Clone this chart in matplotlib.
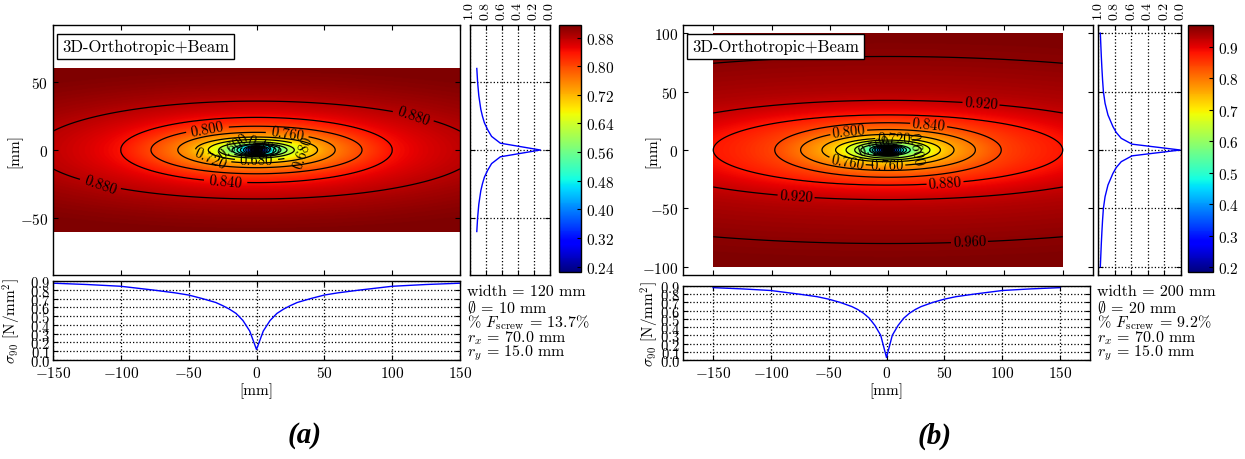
import numpy as np
import matplotlib
matplotlib.use('Agg')
import matplotlib.pyplot as plt

plt.rcParams.update({
    'font.family': 'serif',
    'font.serif': ['cmr10'],
    'mathtext.fontset': 'cm',
    'axes.formatter.use_mathtext': True,
    'font.size': 11,
    'xtick.direction': 'in',
    'ytick.direction': 'in',
    'xtick.top': True,
    'ytick.right': True,
    'axes.linewidth': 1.0,
})

# sigma_90 [N/mm^2] along the beam axis (y = 0); past 150 mm it is the far field
prof_r = [0, 5, 10, 15, 20, 25, 30, 40, 50, 60, 75, 100, 125, 150,
          175, 200, 250, 300, 400, 500, 600]
prof_a = [0.12, 0.33, 0.45, 0.53, 0.58, 0.62, 0.655, 0.70, 0.74, 0.765, 0.795,
          0.84, 0.86, 0.875, 0.885, 0.895, 0.907, 0.915, 0.918, 0.92, 0.922]
prof_b = [0.03, 0.30, 0.42, 0.51, 0.57, 0.615, 0.65, 0.70, 0.74, 0.77, 0.80,
          0.845, 0.865, 0.88, 0.895, 0.91, 0.93, 0.94, 0.96, 0.97, 0.975]

# sigma_90 across the beam at x = 0
side_y_a = [0, 5, 10, 15, 20, 25, 30, 40, 50, 60]
side_a = [0.12, 0.62, 0.73, 0.78, 0.82, 0.845, 0.865, 0.89, 0.905, 0.915]
side_y_b = [0, 5, 10, 15, 20, 30, 40, 50, 60, 70, 80, 90, 100]
side_b = [0.01, 0.59, 0.72, 0.78, 0.82, 0.88, 0.915, 0.935, 0.945, 0.953, 0.96, 0.966, 0.972]

widths = [120, 200]
diameters = [10, 20]
f_screw = [13.7, 9.2]
r_x = [70.0, 70.0]
r_y = [15.0, 15.0]

# where the contour labels go (mm)
label_pos_a = [(114, 22), (-114, -23), (-23, -25), (-37, 18), (23, 13),
               (-34, -6), (33, -1), (0, -7), (-17, 3), (5, 3)]
label_pos_b = [(80, 42), (-79, -41), (70, -81), (49, -29), (35, 23),
               (-34, 18), (-35, -11), (-1, -13), (5, 11), (22, 0), (-12, 4)]

W, H = 1245.0, 460.0


def box(l, t, r, b):
    return [l / W, 1 - b / H, (r - l) / W, (b - t) / H]


def mirror(pos, val):
    pos = np.asarray(pos, float)
    val = np.asarray(val, float)
    return np.r_[-pos[::-1], pos[1:]], np.r_[val[::-1], val[1:]]


def dotted_grid(ax):
    ax.grid(True, color='k', linestyle=':', linewidth=0.9)


def field(X, Y, prof, side_y, side_v):
    # every level is an ellipse whose half axes come from the two profiles
    vs = np.linspace(min(prof[0], side_v[0]), max(prof[-1], side_v[-1]), 500)
    A = np.maximum(np.interp(vs, prof, prof_r), 1e-6)
    B = np.maximum(np.interp(vs, side_v, side_y), 1e-6)
    Z = np.full(X.shape, vs[-1])
    done = np.zeros(X.shape, bool)
    f_prev = (X / A[0]) ** 2 + (Y / B[0]) ** 2
    with np.errstate(all='ignore'):
        for j in range(1, len(vs)):
            f = (X / A[j]) ** 2 + (Y / B[j]) ** 2
            hit = (~done) & (f <= 1)
            t = np.clip((f_prev - 1) / (f_prev - f), 0, 1)
            Z[hit] = vs[j - 1] + t[hit] * (vs[j] - vs[j - 1])
            done |= hit
            f_prev = f
    return Z


def panel(fig, x0, prof, side_y, side_v, half_h, ylim, xlim, vlim,
          levels, cticks, yticks, label_pos, letter, idx):
    # stress field in the plate
    main = fig.add_axes(box(x0 + 53, 26, x0 + 460 + 3 * idx, 276))
    xs = np.linspace(-150, 150, 601)
    ys = np.linspace(-half_h, half_h, int(4 * half_h) + 1)
    X, Y = np.meshgrid(xs, ys)
    Z = field(X, Y, prof, side_y, side_v)
    im = main.imshow(Z, extent=(-150, 150, -half_h, half_h), origin='lower',
                     cmap='jet', vmin=vlim[0], vmax=vlim[1],
                     interpolation='bilinear', aspect='auto')
    cs = main.contour(X, Y, Z, levels=levels, colors='k', linewidths=0.9)
    main.clabel(cs, fmt='%.3f', fontsize=10.5, inline=True, manual=label_pos)
    main.set_xlim(xlim)
    main.set_ylim(ylim)
    main.set_xticks([-150, -100, -50, 0, 50, 100, 150])
    main.set_xticklabels([])
    main.set_yticks(yticks)
    main.tick_params(labelsize=11)
    main.set_ylabel('[mm]', fontsize=11)
    main.yaxis.set_label_coords((22 + 8 * idx - 53) / (407.0 + 3 * idx), 0.5)
    main.text(0.022, 0.945, '3D-Orthotropic+Beam', transform=main.transAxes,
              fontsize=12, va='top', ha='left',
              bbox=dict(boxstyle='square,pad=0.3', fc='white', ec='k', lw=1.0))

    # profile across the plate at x = 0
    sx0 = x0 + 470 - 2 * idx
    side = fig.add_axes(box(sx0, 26, sx0 + 80 + 3 * idx, 276))
    yy, vv = mirror(side_y, side_v)
    side.plot(vv, yy, color='b', lw=1.0)
    side.set_xlim(1.0, 0.0)
    side.set_ylim(ylim)
    side.set_xticks([1.0, 0.8, 0.6, 0.4, 0.2, 0.0])
    side.xaxis.set_tick_params(labeltop=True, labelbottom=False, labelsize=10)
    for t in side.get_xticklabels():
        t.set_rotation(90)
    side.set_yticks(yticks)
    side.set_yticklabels([])
    dotted_grid(side)

    # colour scale
    cx0 = sx0 + 89 + 1 * idx
    cax = fig.add_axes(box(cx0, 26, cx0 + 22 + 3 * idx, 273))
    cb = fig.colorbar(im, cax=cax, ticks=cticks)
    cb.ax.tick_params(labelsize=11, direction='in', length=3)
    cb.outline.set_linewidth(1.0)

    # profile along the beam axis
    top = 282 + 5 * idx
    bot = fig.add_axes(box(x0 + 53, top, x0 + 460, 361))
    xx, pv = mirror(prof_r[:14], prof[:14])
    bot.plot(xx, pv, color='b', lw=1.0)
    bot.set_xlim(xlim)
    bot.set_ylim(0, 0.9)
    bot.set_xticks([-150, -100, -50, 0, 50, 100, 150])
    bot.set_yticks(np.round(np.arange(0, 0.91, 0.1), 1))
    bot.tick_params(labelsize=11)
    bot.tick_params(axis='y', pad=2, labelsize=10.5)
    dotted_grid(bot)
    bot.set_xlabel('[mm]', fontsize=11, labelpad=2)
    bot.set_ylabel(r'$\sigma_{90}$ [N/mm$^2$]', fontsize=11)
    bot.yaxis.set_label_coords((23 + 8 * idx - 53) / 407.0, 0.5)

    lines = ['width = %d mm' % widths[idx],
             r'$\emptyset$ = %d mm' % diameters[idx],
             r'% $F_{\mathrm{screw}}$ = ' + '%.1f%%' % f_screw[idx],
             r'$r_x$ = %.1f mm' % r_x[idx],
             r'$r_y$ = %.1f mm' % r_y[idx]]
    tx = x0 + 467
    for i, s in enumerate(lines):
        fig.text(tx / W, 1 - (292 + 15.3 * i) / H, s, fontsize=11.5,
                 va='center', ha='left')

    fig.text((x0 + 305) / W, 1 - 436 / H, '(%s)' % letter,
             family='Liberation Serif', style='italic', weight='bold',
             fontsize=21, ha='center', va='center')


fig = plt.figure(figsize=(12.45, 4.6), dpi=100)

panel(fig, 0, prof_a, side_y_a, side_a, 60, (-92, 92), (-150, 150),
      (0.225, 0.915), np.arange(0.16, 0.905, 0.04),
      np.arange(0.24, 0.90, 0.08), [-50, 0, 50], label_pos_a, 'a', 0)
panel(fig, 630, prof_b, side_y_b, side_b, 100, (-107, 107), (-176, 176),
      (0.185, 0.97), np.arange(0.04, 0.97, 0.04),
      np.arange(0.2, 0.95, 0.1), [-100, -50, 0, 50, 100], label_pos_b, 'b', 1)

fig.savefig('out.png', dpi=100)
